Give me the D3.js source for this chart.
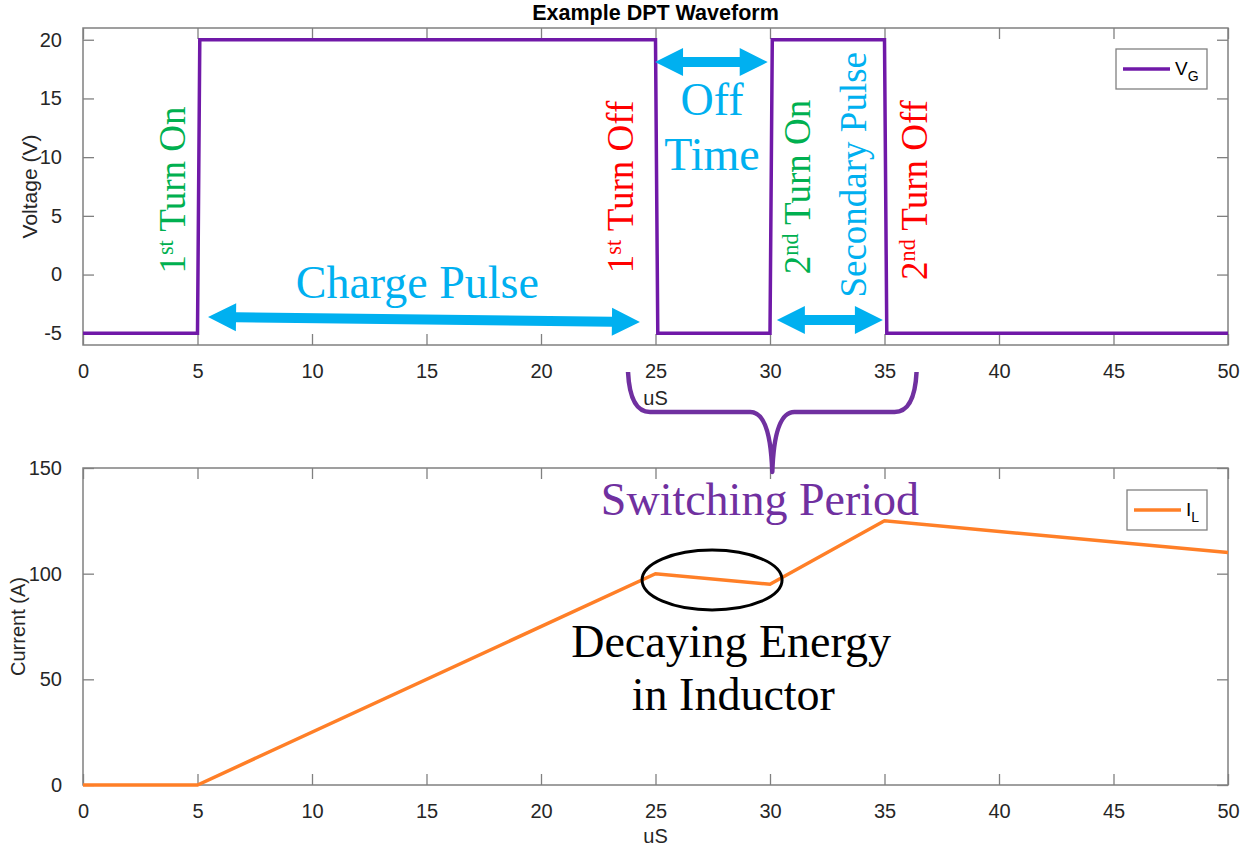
<!DOCTYPE html>
<html>
<head>
<meta charset="utf-8">
<script src="https://cdn.jsdelivr.net/npm/d3@7"></script>
<style>
  body { margin: 0; background: #fff; }
  svg { display: block; }
  .tick text { font-family: "Liberation Sans", Arial, sans-serif; font-size: 20px; fill: #262626; }
  .ann { font-family: "Liberation Serif", "Times New Roman", serif; }
</style>
</head>
<body>
<svg id="chart" width="1242" height="850"></svg>
<script>
// waveform data (time in uS)
var gateTime = [0, 5, 5.1, 25, 25.1, 30, 30.1, 35, 35.1, 50];
var gateVolts = [-5, -5, 20, 20, -5, -5, 20, 20, -5, -5];

var currTime = [0, 5, 25, 30, 35, 50];
var currAmps = [0, 0, 100, 95, 125, 110];

var timeTicks = [0, 5, 10, 15, 20, 25, 30, 35, 40, 45, 50];
var voltTicks = [-5, 0, 5, 10, 15, 20];
var ampTicks = [0, 50, 100, 150];

var w = 1242, h = 850;
var left = 83, right = 1228;

var svg = d3.select("#chart");

//scales
var x = d3.scaleLinear().domain([0, 50]).range([left, right]);
var yV = d3.scaleLinear().domain([-6, 21]).range([345, 28]);
var yI = d3.scaleLinear().domain([0, 150]).range([785, 468]);

var purple = "#7019a8";
var orange = "#ff7f27";
var blue = "#00b0f0";
var green = "#00b050";
var red = "#ff0000";

// plain hyphen minus like the original
var fmt = function(d) { return String(d); };

function drawAxes(y, ticks) {
  var g = svg.append("g");
  var y0 = y.range()[0], y1 = y.range()[1];
  var tk = 11;

  g.append("g")
    .attr("transform", "translate(0," + y0 + ")")
    .call(d3.axisBottom(x).tickValues(timeTicks).tickSize(-tk).tickPadding(19).tickFormat(fmt));
  g.append("g")
    .attr("transform", "translate(0," + y1 + ")")
    .call(d3.axisTop(x).tickValues(timeTicks).tickSize(-tk).tickFormat(""));
  g.append("g")
    .attr("transform", "translate(" + left + ",0)")
    .call(d3.axisLeft(y).tickValues(ticks).tickSize(-tk).tickPadding(21).tickFormat(fmt));
  g.append("g")
    .attr("transform", "translate(" + right + ",0)")
    .call(d3.axisRight(y).tickValues(ticks).tickSize(-tk).tickFormat(""));

  g.selectAll(".domain").remove();
  g.selectAll(".tick line").attr("stroke", "#808080").attr("stroke-width", 1.3);

  g.append("rect")
    .attr("x", left).attr("y", y1)
    .attr("width", right - left).attr("height", y0 - y1)
    .attr("fill", "none").attr("stroke", "#808080").attr("stroke-width", 1.5);
  return g;
}

drawAxes(yV, voltTicks);
drawAxes(yI, ampTicks);

// axis labels + title
var labelFont = "'Liberation Sans', Arial, sans-serif";
svg.append("text").attr("x", x(25)).attr("y", 20)
  .attr("text-anchor", "middle").attr("font-family", labelFont)
  .attr("font-size", 21.5).attr("font-weight", "bold").attr("fill", "#000")
  .text("Example DPT Waveform");

svg.append("text").attr("x", x(25)).attr("y", 405)
  .attr("text-anchor", "middle").attr("font-family", labelFont)
  .attr("font-size", 20).attr("fill", "#262626").text("uS");
svg.append("text").attr("x", x(25)).attr("y", 843)
  .attr("text-anchor", "middle").attr("font-family", labelFont)
  .attr("font-size", 20).attr("fill", "#262626").text("uS");

svg.append("text")
  .attr("transform", "translate(37," + yV(7.5) + ") rotate(-90)")
  .attr("text-anchor", "middle").attr("font-family", labelFont)
  .attr("font-size", 21).attr("fill", "#262626").text("Voltage (V)");
svg.append("text")
  .attr("transform", "translate(25," + yI(75) + ") rotate(-90)")
  .attr("text-anchor", "middle").attr("font-family", labelFont)
  .attr("font-size", 20).attr("fill", "#262626").text("Current (A)");

// lines
var gateData = gateTime.map(function(t, i) { return [t, gateVolts[i]]; });
var currData = currTime.map(function(t, i) { return [t, currAmps[i]]; });

svg.append("path")
  .datum(gateData)
  .attr("d", d3.line().x(function(d) { return x(d[0]); }).y(function(d) { return yV(d[1]); }))
  .attr("fill", "none").attr("stroke", purple).attr("stroke-width", 3.5);

svg.append("path")
  .datum(currData)
  .attr("d", d3.line().x(function(d) { return x(d[0]); }).y(function(d) { return yI(d[1]); }))
  .attr("fill", "none").attr("stroke", orange).attr("stroke-width", 3.5);

// legends
function legend(bx, by, bw, bh, color, main, sub) {
  var g = svg.append("g");
  g.append("rect").attr("x", bx).attr("y", by).attr("width", bw).attr("height", bh)
    .attr("fill", "#fff").attr("stroke", "#808080").attr("stroke-width", 1.3);
  g.append("line").attr("x1", bx + 7).attr("x2", bx + 54)
    .attr("y1", by + bh / 2).attr("y2", by + bh / 2)
    .attr("stroke", color).attr("stroke-width", 3.5);
  var t = g.append("text").attr("x", bx + 59).attr("y", by + bh / 2 + 6)
    .attr("font-family", labelFont).attr("font-size", 19).attr("fill", "#000");
  t.append("tspan").text(main);
  t.append("tspan").attr("font-size", 14).attr("dy", 6).text(sub);
}
legend(1116, 49, 91, 40, purple, "V", "G");
legend(1127, 490, 80, 40, orange, "I", "L");

// --- annotations ---
function arrow(t1, v1, t2, v2, y) {
  var x1 = x(t1), y1 = y(v1), x2 = x(t2), y2 = y(v2);
  var len = Math.hypot(x2 - x1, y2 - y1);
  var ang = Math.atan2(y2 - y1, x2 - x1) * 180 / Math.PI;
  var hl = 28, hw = 14, sw = 5;
  var pts = [[0, 0], [hl, -hw], [hl, -sw], [len - hl, -sw], [len - hl, -hw], [len, 0],
             [len - hl, hw], [len - hl, sw], [hl, sw], [hl, hw]];
  svg.append("polygon")
    .attr("points", pts.map(function(p) { return p.join(","); }).join(" "))
    .attr("transform", "translate(" + x1 + "," + y1 + ") rotate(" + ang + ")")
    .attr("fill", blue);
}
arrow(5.46, -3.61, 24.32, -4.04, yV);
arrow(24.98, 18.1, 29.9, 18.1, yV);
arrow(30.3, -3.87, 34.93, -3.87, yV);

function vText(t, v, color, size, parts) {
  var tx = svg.append("text").attr("class", "ann")
    .attr("transform", "translate(" + x(t) + "," + yV(v) + ") rotate(-90)")
    .attr("text-anchor", "middle").attr("font-size", size).attr("fill", color);
  parts.forEach(function(p) {
    var s = tx.append("tspan").text(p[0]);
    if (p[1]) s.attr("font-size", size * 0.6).attr("baseline-shift", "super");
  });
}
vText(4.45, 7.2, green, 37, [["1"], ["st", 1], [" Turn On"]]);
vText(24.0, 7.46, red, 37, [["1"], ["st", 1], [" Turn Off"]]);
vText(31.75, 7.46, green, 37, [["2"], ["nd", 1], [" Turn On"]]);
vText(34.2, 8.5, blue, 37, [["Secondary Pulse"]]);
vText(36.86, 7.2, red, 37, [["2"], ["nd", 1], [" Turn Off"]]);

function hText(t, val, y, color, str) {
  svg.append("text").attr("class", "ann")
    .attr("x", x(t)).attr("y", y(val))
    .attr("text-anchor", "middle").attr("font-size", 46).attr("fill", color)
    .text(str);
}
hText(27.47, 13.6, yV, blue, "Off");
hText(27.47, 8.9, yV, blue, "Time");
hText(14.6, -2.0, yV, blue, "Charge Pulse");
hText(29.56, 127.8, yI, "#7030a0", "Switching Period");
hText(28.3, 60.6, yI, "#000", "Decaying Energy");
hText(28.4, 35.5, yI, "#000", "in Inductor");

// ellipse around the decaying section
svg.append("ellipse")
  .attr("cx", x(27.47)).attr("cy", yI(97))
  .attr("rx", 70).attr("ry", 30)
  .attr("fill", "none").attr("stroke", "#000").attr("stroke-width", 3);

// curly brace
var bl = x(23.8), bm = x(30.1), br = x(36.4);
var bTop = 372, bMid = 412, bTip = 472;
svg.append("path")
  .attr("d", "M" + bl + "," + bTop +
    " Q" + (bl + 2) + "," + bMid + " " + (bl + 22) + "," + bMid +
    " L" + (bm - 22) + "," + bMid +
    " Q" + (bm - 2) + "," + bMid + " " + bm + "," + bTip +
    " Q" + (bm + 2) + "," + bMid + " " + (bm + 22) + "," + bMid +
    " L" + (br - 22) + "," + bMid +
    " Q" + (br - 2) + "," + bMid + " " + br + "," + bTop)
  .attr("fill", "none").attr("stroke", "#7030a0").attr("stroke-width", 4.5)
  .attr("stroke-linejoin", "round");
</script>
</body>
</html>
